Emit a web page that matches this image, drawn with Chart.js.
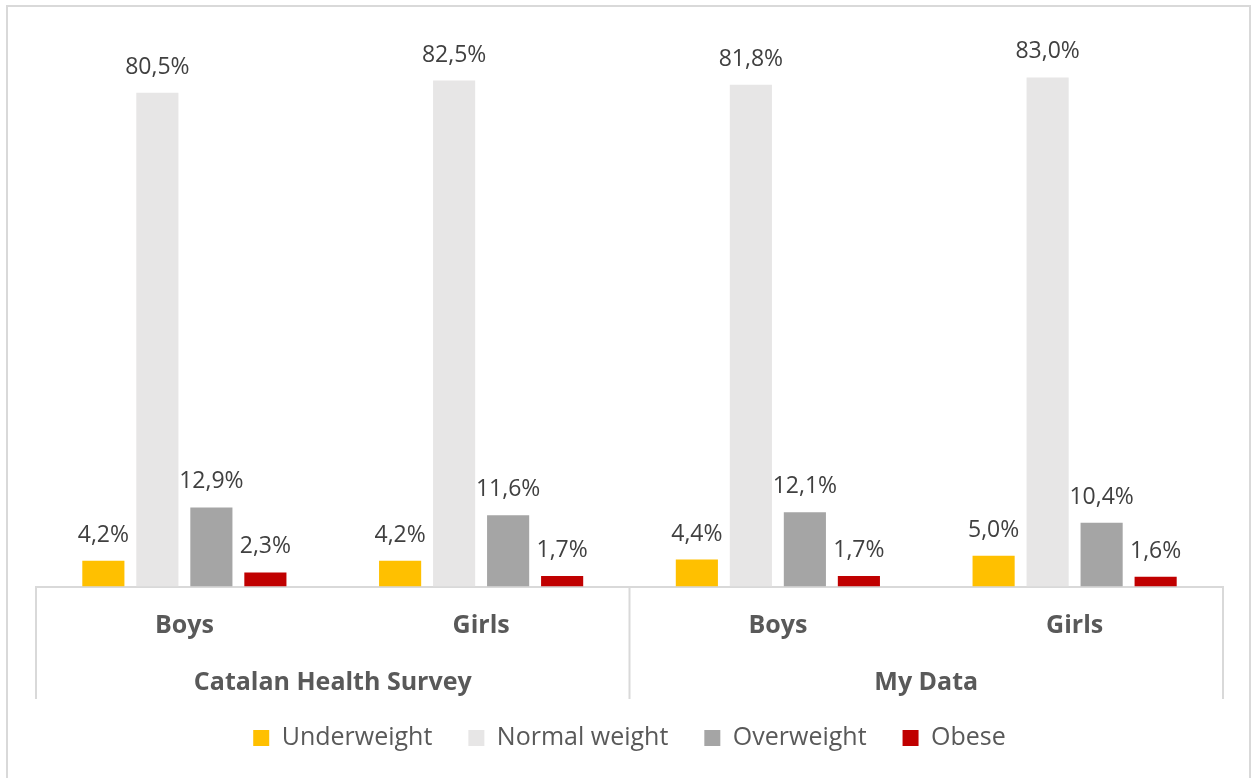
<!DOCTYPE html>
<html>
<head>
<meta charset="utf-8">
<script src="https://cdn.jsdelivr.net/npm/chart.js@4"></script>
<style>
  html, body { margin: 0; padding: 0; background: #fff; }
  #wrap { position: relative; width: 1251px; height: 778px; overflow: hidden; }
  #frame { position: absolute; left: 6px; top: 5px; width: 1245px; height: 800px;
           border: 2px solid #d9d9d9; box-sizing: border-box; }
  canvas { position: absolute; left: 0; top: 0; }
</style>
</head>
<body>
<div id="wrap">
  <div id="frame"></div>
  <canvas id="bmiChart" width="1251" height="778"></canvas>
</div>
<script>
// BMI categories by sex, two sources
const categories = ['Boys', 'Girls', 'Boys', 'Girls'];
const groups = ['Catalan Health Survey', 'My Data'];
const underweight = [4.2, 4.2, 4.4, 5.0];
const normalWeight = [80.5, 82.5, 81.8, 83.0];
const overweight = [12.9, 11.6, 12.1, 10.4];
const obese = [2.3, 1.7, 1.7, 1.6];

const fontFamily = '"Open Sans", "DejaVu Sans", sans-serif';

// value labels above bars (comma decimals)
const valueLabels = {
  id: 'valueLabels',
  afterDatasetsDraw(chart) {
    const ctx = chart.ctx;
    ctx.save();
    ctx.font = '23px ' + fontFamily;
    ctx.fillStyle = '#404040';
    ctx.textAlign = 'center';
    ctx.textBaseline = 'alphabetic';
    chart.data.datasets.forEach((ds, i) => {
      chart.getDatasetMeta(i).data.forEach((bar, j) => {
        const txt = ds.data[j].toFixed(1).replace('.', ',') + '%';
        ctx.fillText(txt, bar.x, bar.y - 19);
      });
    });
    ctx.restore();
  }
};

// second axis level: group names and separators
const groupAxis = {
  id: 'groupAxis',
  afterDraw(chart) {
    const ctx = chart.ctx;
    const x = chart.scales.x;
    const area = chart.chartArea;
    const y0 = area.bottom;
    const y1 = 699;
    ctx.save();
    ctx.strokeStyle = '#d9d9d9';
    ctx.lineWidth = 2;
    const mid = (x.getPixelForValue(1) + x.getPixelForValue(2)) / 2;
    [area.left, mid, area.right].forEach(px => {
      ctx.beginPath();
      ctx.moveTo(px, y0);
      ctx.lineTo(px, y1);
      ctx.stroke();
    });
    ctx.font = 'bold 25px ' + fontFamily;
    ctx.fillStyle = '#595959';
    ctx.textAlign = 'center';
    ctx.textBaseline = 'middle';
    groups.forEach((g, i) => {
      const cx = (x.getPixelForValue(i * 2) + x.getPixelForValue(i * 2 + 1)) / 2;
      ctx.fillText(g, cx, 683);
    });
    ctx.restore();
  }
};

new Chart(document.getElementById('bmiChart').getContext('2d'), {
  type: 'bar',
  data: {
    labels: categories,
    datasets: [
      { label: 'Underweight', data: underweight, backgroundColor: '#FFC000' },
      { label: 'Normal weight', data: normalWeight, backgroundColor: '#E7E6E6' },
      { label: 'Overweight', data: overweight, backgroundColor: '#A5A5A5' },
      { label: 'Obese', data: obese, backgroundColor: '#C00000' }
    ]
  },
  options: {
    responsive: false,
    animation: false,
    datasets: { bar: { categoryPercentage: 0.728, barPercentage: 0.78 } },
    layout: { padding: { left: 36, right: 28, top: 34.5, bottom: 17.5 } },
    plugins: {
      tooltip: { enabled: false },
      legend: {
        position: 'bottom',
        labels: {
          color: '#595959',
          font: { family: fontFamily, size: 25 },
          boxWidth: 16,
          boxHeight: 16,
          padding: 36
        }
      }
    },
    scales: {
      x: {
        grid: { display: false, drawTicks: false },
        border: { display: true, color: '#d9d9d9', width: 2 },
        ticks: {
          color: '#595959',
          font: { family: fontFamily, size: 25, weight: 'bold' },
          padding: 24.5,
          maxRotation: 0
        },
        afterFit(scale) { scale.height = 103; }
      },
      y: {
        display: false,
        min: 0,
        max: 90
      }
    }
  },
  plugins: [valueLabels, groupAxis]
});
</script>
</body>
</html>
